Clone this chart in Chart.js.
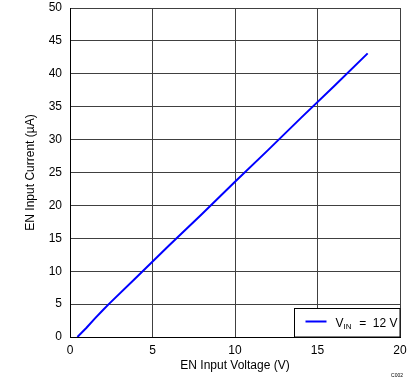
<!DOCTYPE html>
<html>
<head>
<meta charset="utf-8">
<script src="https://cdn.jsdelivr.net/npm/chart.js@4.4.0/dist/chart.umd.min.js"></script>
<style>
html,body{margin:0;padding:0;background:#fff;}
#c{display:block;}
</style>
</head>
<body>
<canvas id="c" width="419" height="382"></canvas>
<script>
const voltage = [0.45, 1.0, 1.5, 2.0, 2.35, 4.0, 6.0, 8.0, 10.0, 12.0, 14.0, 16.0, 18.04];
const current = [0.0, 1.4, 2.8, 4.1, 5.0, 9.0, 13.9, 18.7, 23.6, 28.4, 33.3, 38.1, 43.1];
const xTicks = [0, 5, 10, 15, 20];
const yTicks = [0, 5, 10, 15, 20, 25, 30, 35, 40, 45, 50];
const seriesName = ['V', 'IN', '  =  12 V'];

const FONT = '"Liberation Sans", Arial, sans-serif';

const legendPlugin = {
  id: 'customLegend',
  afterDraw(chart) {
    const ctx = chart.ctx;
    const a = chart.chartArea;
    const bx = 294.5, by = 308.5, bw = a.right - bx, bh = a.bottom - by;
    ctx.save();
    ctx.fillStyle = '#fff';
    ctx.fillRect(bx, by, bw, bh);
    ctx.strokeStyle = '#000';
    ctx.lineWidth = 1;
    ctx.strokeRect(bx, by, bw, bh);
    const ly = by + 13;
    ctx.strokeStyle = chart.data.datasets[0].borderColor;
    ctx.lineWidth = 2;
    ctx.beginPath();
    ctx.moveTo(bx + 11, ly);
    ctx.lineTo(bx + 32, ly);
    ctx.stroke();
    ctx.fillStyle = '#000';
    ctx.textBaseline = 'alphabetic';
    ctx.textAlign = 'left';
    let tx = bx + 41;
    const base = ly + 5;
    ctx.font = '12px ' + FONT;
    ctx.fillText(seriesName[0], tx, base);
    tx += ctx.measureText(seriesName[0]).width;
    ctx.font = '8px ' + FONT;
    ctx.fillText(seriesName[1], tx, base + 2);
    tx += ctx.measureText(seriesName[1]).width + 1;
    ctx.font = '12px ' + FONT;
    ctx.fillText(seriesName[2], tx, base);
    // small code text
    ctx.font = '5px ' + FONT;
    ctx.textAlign = 'right';
    ctx.fillText('C002', 403, 377);
    ctx.restore();
  }
};

new Chart(document.getElementById('c'), {
  type: 'scatter',
  data: {
    datasets: [{
      data: voltage.map((v, i) => ({x: v, y: current[i]})),
      showLine: true,
      borderColor: '#0000FF',
      borderWidth: 2,
      pointRadius: 0,
      tension: 0,
      fill: false
    }]
  },
  options: {
    responsive: false,
    animation: false,
    devicePixelRatio: 1,
    layout: {padding: {left: 0, top: 8, right: 19, bottom: 0}},
    plugins: {legend: {display: false}, tooltip: {enabled: false}},
    scales: {
      x: {
        type: 'linear', min: 0, max: 20,
        afterBuildTicks: s => { s.ticks = xTicks.map(v => ({value: v})); },
        afterFit: s => { s.height = 45; s.paddingLeft = 0; s.paddingRight = 0; },
        ticks: {color: '#000', font: {family: FONT, size: 12}, padding: 6, maxRotation: 0},
        grid: {color: '#404040', lineWidth: 1, drawTicks: false},
        border: {color: '#000', width: 1},
        title: {display: true, text: 'EN Input Voltage (V)', color: '#000',
                font: {family: FONT, size: 12}, padding: {top: 0, bottom: 9}}
      },
      y: {
        type: 'linear', min: 0, max: 50,
        afterBuildTicks: s => { s.ticks = yTicks.map(v => ({value: v})); },
        afterFit: s => { s.width = 70; s.paddingTop = 0; s.paddingBottom = 0; },
        ticks: {color: '#000', font: {family: FONT, size: 12}, padding: 8},
        grid: {color: '#404040', lineWidth: 1, drawTicks: false},
        border: {color: '#000', width: 1},
        title: {display: true, text: 'EN Input Current (µA)', color: '#000',
                font: {family: FONT, size: 12}, padding: {top: 23, bottom: 0}}
      }
    }
  },
  plugins: [legendPlugin]
});
</script>
</body>
</html>
